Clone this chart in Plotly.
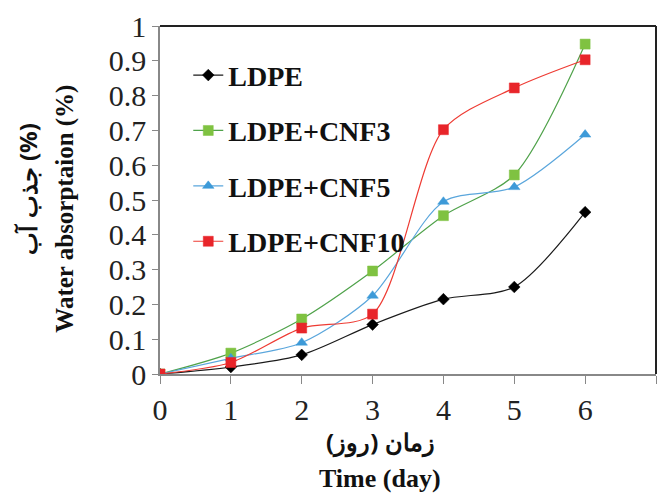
import plotly.graph_objects as go

days = [0, 1, 2, 3, 4, 5, 6]
ldpe = [0, 0.02, 0.055, 0.142, 0.215, 0.25, 0.465]
cnf3 = [0, 0.06, 0.158, 0.296, 0.455, 0.572, 0.948]
cnf5 = [0, 0.045, 0.09, 0.225, 0.495, 0.537, 0.688]
cnf10 = [0, 0.033, 0.132, 0.172, 0.702, 0.822, 0.903]
y_ticks = [0, 0.1, 0.2, 0.3, 0.4, 0.5, 0.6, 0.7, 0.8, 0.9, 1]
y_tick_text = ["0", "0.1", "0.2", "0.3", "0.4", "0.5", "0.6", "0.7", "0.8", "0.9", "1"]
x_ticks = [0, 1, 2, 3, 4, 5, 6, 7]

series = [
    ("LDPE", ldpe, "#1a1a1a", "#000000", "diamond", 9),
    ("LDPE+CNF3", cnf3, "#4fa24a", "#7fc241", "square", 10),
    ("LDPE+CNF5", cnf5, "#5aa6dc", "#3d9ad8", "triangle-up", 10),
    ("LDPE+CNF10", cnf10, "#ee3b33", "#e8252a", "square", 10),
]

fig = go.Figure()
for i, (name, vals, lc, mc, sym, sz) in enumerate(series):
    fig.add_trace(go.Scatter(
        x=days, y=vals, name="<b>" + name + "</b>", mode="lines+markers",
        line=dict(color=lc, width=1.2, shape="spline", smoothing=0.8),
        marker=dict(symbol=sym, size=sz, color=mc,
                    line=dict(color=mc, width=0.5)),
        legendgroup=str(i),
    ))

serif = "Liberation Serif"
arab = "Noto Sans"
fig.update_layout(
    width=660, height=494,
    margin=dict(l=160, r=4, t=26, b=120),
    plot_bgcolor="white", paper_bgcolor="white",
    font=dict(family=serif, color="#222"),
    showlegend=True,
    legend=dict(x=0.057, y=0.93, xanchor="left", yanchor="top",
                font=dict(family=serif, size=28, color="#111"),
                tracegroupgap=16, bgcolor="rgba(0,0,0,0)"),
    xaxis=dict(range=[0, 7], tickvals=x_ticks, ticks="outside", ticklen=8,
               tickcolor="#888", showline=True, linecolor="#888", linewidth=1.5,
               mirror=False, showgrid=False, zeroline=False,
               tickfont=dict(family=serif, size=30, color="#222")),
    yaxis=dict(range=[0, 1], tickvals=y_ticks, ticktext=y_tick_text,
               ticks="outside", ticklen=6, tickcolor="#888",
               showline=True, linecolor="#888", linewidth=1.5,
               showgrid=False, zeroline=False,
               tickfont=dict(family=serif, size=30, color="#222")),
    shapes=[
        dict(type="line", xref="paper", yref="paper", x0=0, x1=1, y0=1, y1=1,
             line=dict(color="#222", width=2)),
        dict(type="line", xref="paper", yref="paper", x0=1, x1=1, y0=0, y1=1,
             line=dict(color="#222", width=2)),
    ],
    annotations=[
        dict(text="<b>Water absorptaion (%)</b>", xref="paper", yref="paper",
             x=0, y=0.475, xanchor="center", yanchor="middle", textangle=-90,
             showarrow=False, xshift=-95,
             font=dict(family=serif, size=25, color="#111")),
        dict(text="<b>جذب آب (%)</b>", xref="paper", yref="paper",
             x=0, y=0.53, xanchor="center", yanchor="middle", textangle=-90,
             showarrow=False, xshift=-132,
             font=dict(family=arab, size=24, color="#111")),
        dict(text="<b>زمان (روز)</b>", xref="paper", yref="paper",
             x=0.444, y=0, xanchor="center", yanchor="middle", yshift=-67,
             showarrow=False,
             font=dict(family=arab, size=24, color="#111")),
        dict(text="<b>Time (day)</b>", xref="paper", yref="paper",
             x=0.444, y=0, xanchor="center", yanchor="middle", yshift=-104,
             showarrow=False,
             font=dict(family=serif, size=26, color="#111")),
    ],
)

fig.write_html("out.html")
